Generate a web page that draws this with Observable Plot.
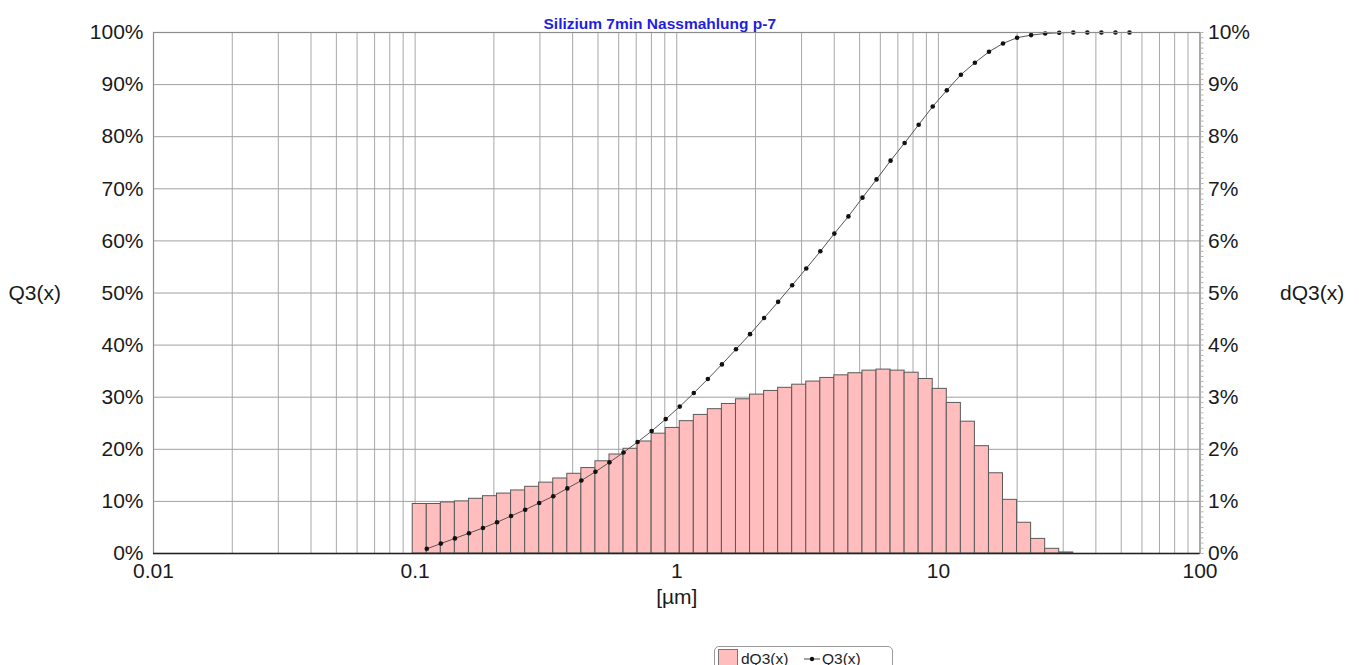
<!DOCTYPE html>
<html>
<head>
<meta charset="utf-8">
<script src="https://cdn.jsdelivr.net/npm/d3@7"></script>
<script src="https://cdn.jsdelivr.net/npm/@observablehq/plot@0.6"></script>
<style>
  html, body { margin: 0; padding: 0; background: #fff; overflow: hidden; }
  #wrap { position: relative; width: 1359px; height: 665px; font-family: "Liberation Sans", Arial, sans-serif; }
  #legend { position: absolute; left: 714px; top: 646px; width: 177px; height: 26px; border: 1px solid #9a9a9a; border-radius: 5px 5px 0 0; font-size: 15.5px; color: #222; }
  #legend .sw { position: absolute; left: 3px; top: 2px; width: 18px; height: 17px; background: #ffbdbd; border: 1px solid #777; }
  #legend .t1 { position: absolute; left: 26px; top: 3px; }
  #legend .ln { position: absolute; left: 88px; top: 3px; }
  #legend .t2 { position: absolute; left: 107px; top: 3px; }
</style>
</head>
<body>
<div id="wrap">
  <div id="chart"></div>
  <div id="legend">
    <div class="sw"></div>
    <div class="t1">dQ3(x)</div>
    <svg class="ln" width="18" height="18"><line x1="1" y1="9" x2="17" y2="9" stroke="#444" stroke-width="1"/><circle cx="9" cy="9" r="2.2" fill="#111"/></svg>
    <div class="t2">Q3(x)</div>
  </div>
</div>
<script>
// Bin edges (µm) of the size classes
const edges = [0.0979, 0.1108, 0.1254, 0.1419, 0.1606, 0.1817, 0.2056, 0.2327, 0.2634, 0.2980,
  0.3373, 0.3817, 0.4319, 0.4889, 0.5532, 0.6260, 0.7085, 0.8017, 0.9073, 1.027,
  1.162, 1.315, 1.488, 1.684, 1.906, 2.157, 2.441, 2.762, 3.126, 3.538,
  4.003, 4.530, 5.127, 5.802, 6.566, 7.430, 8.408, 9.515, 10.77, 12.19,
  13.79, 15.61, 17.66, 19.99, 22.62, 25.60, 28.97, 32.79, 37.10, 41.99,
  47.52, 53.78];

// dQ3(x) per class, % (right axis)
const dQ3 = [0.95, 0.95, 0.98, 1.00, 1.05, 1.10, 1.15, 1.21, 1.28, 1.36,
  1.44, 1.53, 1.64, 1.77, 1.90, 2.01, 2.15, 2.30, 2.41, 2.54,
  2.66, 2.77, 2.87, 2.96, 3.05, 3.12, 3.18, 3.24, 3.30, 3.37,
  3.42, 3.46, 3.51, 3.53, 3.51, 3.47, 3.35, 3.16, 2.89, 2.53,
  2.06, 1.54, 1.03, 0.59, 0.28, 0.09, 0.02];

// Q3(x) cumulative at upper class edges, % (left axis)
const Q3 = [0.9, 1.9, 2.9, 3.9, 4.9, 6.0, 7.2, 8.4, 9.7, 11.0,
  12.5, 14.0, 15.7, 17.5, 19.4, 21.4, 23.5, 25.8, 28.2, 30.8,
  33.5, 36.3, 39.2, 42.1, 45.2, 48.3, 51.5, 54.7, 58.0, 61.4,
  64.7, 68.3, 71.8, 75.4, 78.8, 82.3, 85.8, 88.9, 91.9, 94.2,
  96.3, 97.9, 99.0, 99.5, 99.8, 99.95, 100, 100, 100, 100, 100];

const xTickValues = [0.01, 0.1, 1, 10, 100];
const xTickLabels = ["0.01", "0.1", "1", "10", "100"];
const xGrid = [0.01, 0.02, 0.03, 0.04, 0.05, 0.06, 0.07, 0.08, 0.09,
  0.1, 0.2, 0.3, 0.4, 0.5, 0.6, 0.7, 0.8, 0.9,
  1, 2, 3, 4, 5, 6, 7, 8, 9,
  10, 20, 30, 40, 50, 60, 70, 80, 90, 100];
const leftTicks = [0, 10, 20, 30, 40, 50, 60, 70, 80, 90, 100];
const leftLabels = ["0%", "10%", "20%", "30%", "40%", "50%", "60%", "70%", "80%", "90%", "100%"];
const rightLabels = ["0%", "1%", "2%", "3%", "4%", "5%", "6%", "7%", "8%", "9%", "10%"];
const rightMinor = d3.range(0, 101, 1);

const bars = dQ3.map((v, i) => ({x1: edges[i], x2: edges[i + 1], v}));
const q3pts = Q3.map((v, i) => ({x: edges[i + 1], v}));
const xLabels = xTickValues.map((v, i) => ({v, t: xTickLabels[i]}));

const H = 640;
const chart = Plot.plot({
  width: 1359,
  height: H,
  marginLeft: 153,
  marginRight: 1359 - 1199.5,
  marginTop: 32,
  marginBottom: H - 553,
  style: {fontFamily: "'Liberation Sans', Arial, sans-serif", fontSize: "21px", color: "#1a1a1a", background: "#fff"},
  x: {type: "log", domain: [0.01, 100], axis: null},
  y: {domain: [0, 100], axis: null},
  marks: [
    Plot.gridX(xGrid, {stroke: "#a8a8a8", strokeOpacity: 1, strokeWidth: 1}),
    Plot.gridY(leftTicks, {stroke: "#a0a0a0", strokeOpacity: 1, strokeWidth: 1}),
    // dQ3 is on the right axis (0–10%), drawn on the same scale ×10
    Plot.rectY(bars, {x1: "x1", x2: "x2", y1: 0, y2: d => d.v * 10, fill: "#ffbdbd", stroke: "#5a5a5a", strokeWidth: 1}),
    Plot.line(q3pts, {x: "x", y: "v", stroke: "#555", strokeWidth: 1}),
    Plot.dot(q3pts, {x: "x", y: "v", r: 2.3, fill: "#111", stroke: "none"}),
    Plot.frame({stroke: "#8c8c8c", strokeWidth: 1.2}),
    Plot.ruleY([0], {stroke: "#222", strokeWidth: 1.5}),
    Plot.text(xLabels, {x: "v", text: "t", frameAnchor: "bottom", dy: 18, lineAnchor: "middle", fontSize: 21, fill: "#1a1a1a"}),
    Plot.axisY(leftTicks, {anchor: "left", tickSize: 0, tickPadding: 10, tickFormat: (d, i) => leftLabels[i], label: null, fontSize: 21, fill: "#1a1a1a"}),
    Plot.axisY(rightMinor, {anchor: "right", tickSize: 3, stroke: "#b5b5b5", tickFormat: () => "", label: null}),
    Plot.axisY(leftTicks, {anchor: "right", tickSize: 0, tickPadding: 8, tickFormat: (d, i) => rightLabels[i], label: null, fontSize: 21, fill: "#1a1a1a"}),
    Plot.text(["Q3(x)"], {frameAnchor: "left", dx: -145, textAnchor: "start", fontSize: 21, fill: "#1a1a1a"}),
    Plot.text(["dQ3(x)"], {frameAnchor: "right", dx: 80, textAnchor: "start", fontSize: 21, fill: "#1a1a1a"}),
    Plot.text(["[µm]"], {frameAnchor: "bottom", dy: 50, fontSize: 21, fill: "#1a1a1a"}),
    Plot.text(["Silizium 7min Nassmahlung p-7"], {frameAnchor: "top", dx: -17, dy: -15, fontSize: 15.5, fontWeight: "bold", fill: "#1f1fe0"})
  ]
});
document.getElementById("chart").appendChild(chart);
</script>
</body>
</html>
